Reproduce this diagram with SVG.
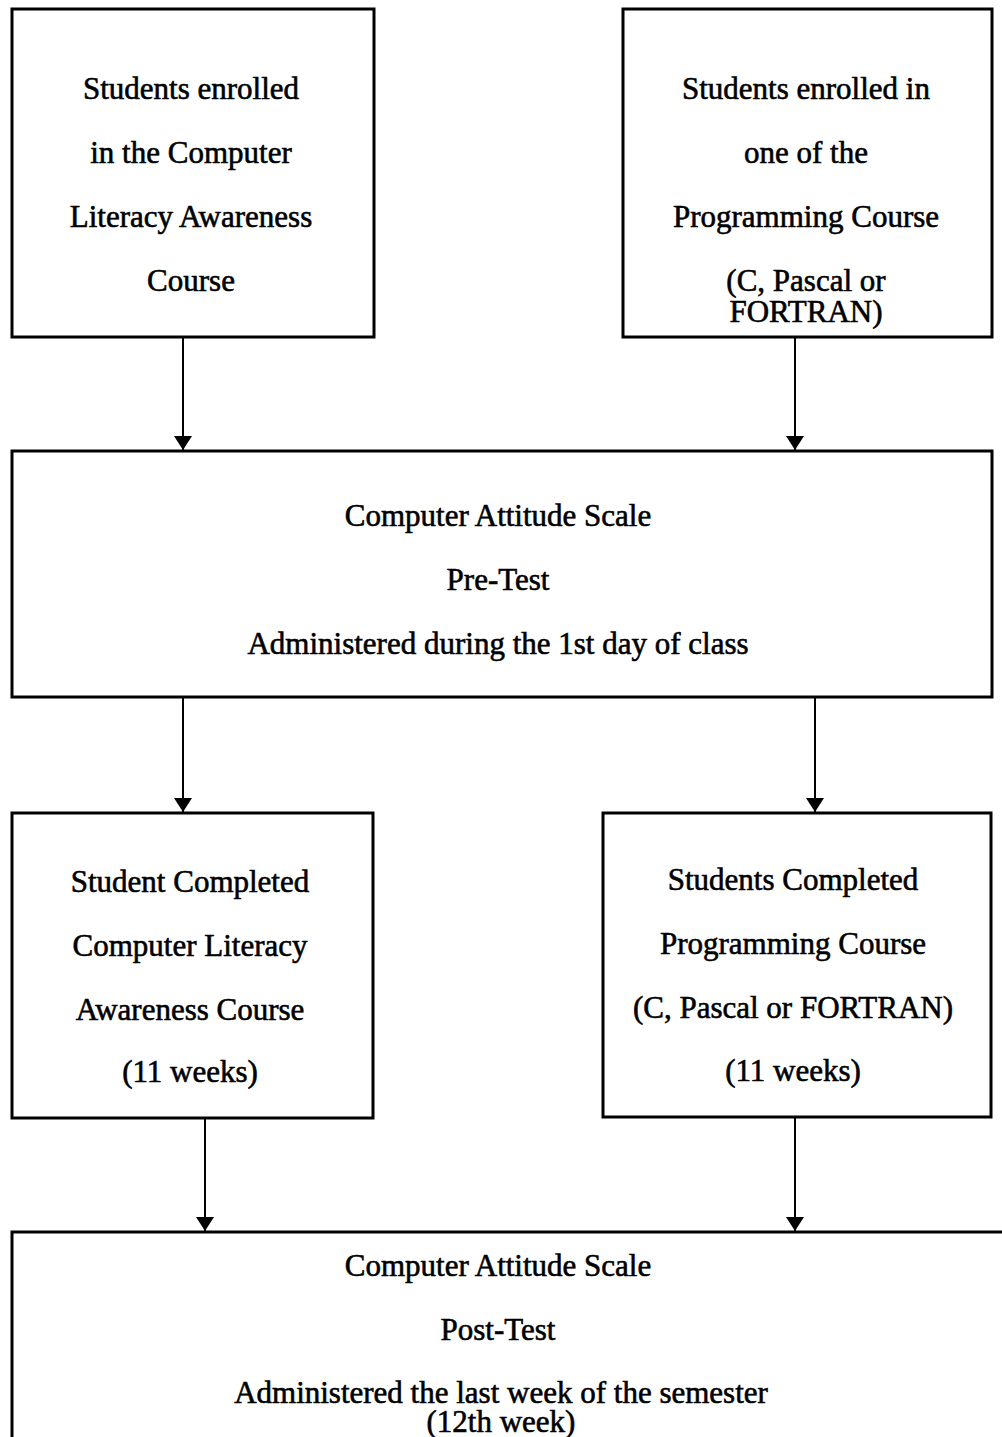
<svg xmlns="http://www.w3.org/2000/svg" width="1002" height="1437" viewBox="0 0 1002 1437">
<style>
.box{fill:#fff;stroke:#000;stroke-width:3}
.t{font-family:"Liberation Serif","Times New Roman",serif;font-size:31px;fill:#000;stroke:#000;stroke-width:0.6;text-anchor:middle}
.c{stroke:#000;stroke-width:2;fill:none}
</style>
<defs>
<marker id="ah" markerWidth="14" markerHeight="18" refX="14" refY="9" orient="auto" markerUnits="userSpaceOnUse" viewBox="0 0 14 18">
<path d="M0,0 L14,9 L0,18 Z" fill="#000"/>
</marker>
</defs>
<rect width="1002" height="1437" fill="#fff"/>
<g id="connectors">
<line class="c" x1="183" y1="337" x2="183" y2="450" marker-end="url(#ah)"/>
<line class="c" x1="795" y1="337" x2="795" y2="450" marker-end="url(#ah)"/>
<line class="c" x1="183" y1="697" x2="183" y2="812" marker-end="url(#ah)"/>
<line class="c" x1="815" y1="697" x2="815" y2="812" marker-end="url(#ah)"/>
<line class="c" x1="205" y1="1118" x2="205" y2="1231" marker-end="url(#ah)"/>
<line class="c" x1="795" y1="1117" x2="795" y2="1231" marker-end="url(#ah)"/>
</g>
<g id="node1">
<rect class="box" x="12" y="9" width="362" height="328"/>
<text class="t" x="191" y="99">Students enrolled</text>
<text class="t" x="191" y="163">in the Computer</text>
<text class="t" x="191" y="227">Literacy Awareness</text>
<text class="t" x="191" y="291">Course</text>
</g>
<g id="node2">
<rect class="box" x="623" y="9" width="369" height="328"/>
<text class="t" x="806" y="99">Students enrolled in</text>
<text class="t" x="806" y="163">one of the</text>
<text class="t" x="806" y="227">Programming Course</text>
<text class="t" x="806" y="291">(C, Pascal or</text>
<text class="t" x="806" y="322">FORTRAN)</text>
</g>
<g id="node3">
<rect class="box" x="12" y="451" width="980" height="246"/>
<text class="t" x="498" y="526">Computer Attitude Scale</text>
<text class="t" x="498" y="590">Pre-Test</text>
<text class="t" x="498" y="654">Administered during the 1st day of class</text>
</g>
<g id="node4">
<rect class="box" x="12" y="813" width="361" height="305"/>
<text class="t" x="190" y="892">Student Completed</text>
<text class="t" x="190" y="956">Computer Literacy</text>
<text class="t" x="190" y="1020">Awareness Course</text>
<text class="t" x="190" y="1082">(11 weeks)</text>
</g>
<g id="node5">
<rect class="box" x="603" y="813" width="388" height="304"/>
<text class="t" x="793" y="890">Students Completed</text>
<text class="t" x="793" y="954">Programming Course</text>
<text class="t" x="793" y="1018">(C, Pascal or FORTRAN)</text>
<text class="t" x="793" y="1081">(11 weeks)</text>
</g>
<g id="node6">
<path class="box" d="M1006,1232 H12 V1442"/>
<text class="t" x="498" y="1276">Computer Attitude Scale</text>
<text class="t" x="498" y="1340">Post-Test</text>
<text class="t" x="501" y="1403">Administered the last week of the semester</text>
<text class="t" x="501" y="1432">(12th week)</text>
</g>
</svg>
